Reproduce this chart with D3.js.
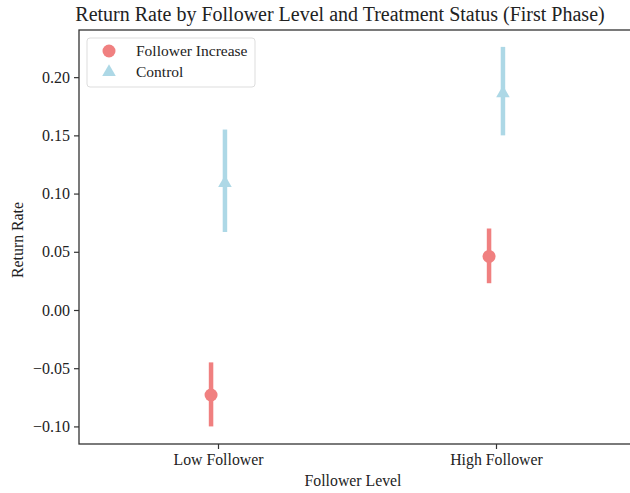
<!DOCTYPE html>
<html>
<head>
<meta charset="utf-8">
<script src="https://cdn.jsdelivr.net/npm/d3@7"></script>
<style>
  body { margin: 0; background: #fff; }
  text { font-family: "Liberation Serif", "Times New Roman", serif; fill: #222; }
</style>
</head>
<body>
<div id="chart"></div>
<script>
var levels = ["Low Follower", "High Follower"];
var groups = ["Follower Increase", "Control"];
// point estimate and CI per group, in the order of levels
var increaseMean = [-0.073, 0.046];
var increaseLow = [-0.100, 0.023];
var increaseHigh = [-0.045, 0.070];
var controlMean = [0.109, 0.186];
var controlLow = [0.067, 0.150];
var controlHigh = [0.155, 0.226];
var yTicks = [-0.10, -0.05, 0.00, 0.05, 0.10, 0.15, 0.20];

function init(){
    var w = 630, h = 493;
    var left = 79, right = 635, top = 30, bottom = 444;

    var svg = d3.select("#chart").append("svg")
        .attr("width", w).attr("height", h);

    var xScale = d3.scaleLinear().domain([-0.5, 1.5]).range([left, right]);
    var yScale = d3.scaleLinear().domain([-0.1151, 0.2405]).range([bottom, top]);
    var colors = {"Follower Increase": "#f08080", "Control": "#add8e6"};
    var dodge = 0.025;

    var series = [
        {name: "Follower Increase", mean: increaseMean, lo: increaseLow, hi: increaseHigh, off: -dodge},
        {name: "Control", mean: controlMean, lo: controlLow, hi: controlHigh, off: dodge}
    ];

    // frame
    svg.append("rect")
        .attr("x", left).attr("y", top)
        .attr("width", right - left).attr("height", bottom - top)
        .attr("fill", "none").attr("stroke", "#333").attr("stroke-width", 1.3);

    var yAxis = d3.axisLeft(yScale).tickValues(yTicks)
        .tickFormat(function(d){ return d3.format(".2f")(d).replace("-", "\u2212"); })
        .tickSize(5).tickPadding(4);
    var yg = svg.append("g").attr("transform", "translate(" + left + ",0)").call(yAxis);
    yg.select(".domain").remove();
    yg.selectAll("line").attr("stroke", "#333").attr("stroke-width", 1.2);
    yg.selectAll("text").style("font-size", "16px").style("font-family", "Liberation Serif").attr("fill", "#222");

    var xAxis = d3.axisBottom(xScale).tickValues([0, 1])
        .tickFormat(function(d){ return levels[d]; })
        .tickSize(5).tickPadding(5);
    var xg = svg.append("g").attr("transform", "translate(0," + bottom + ")").call(xAxis);
    xg.select(".domain").remove();
    xg.selectAll("line").attr("stroke", "#333").attr("stroke-width", 1.2);
    xg.selectAll("text").style("font-size", "15.8px").style("font-family", "Liberation Serif").attr("fill", "#222");

    series.forEach(function(s){
        var g = svg.append("g");
        var c = colors[s.name];
        levels.forEach(function(l, i){
            var cx = xScale(i + s.off);
            g.append("line")
                .attr("x1", cx).attr("x2", cx)
                .attr("y1", yScale(s.lo[i])).attr("y2", yScale(s.hi[i]))
                .attr("stroke", c).attr("stroke-width", 4.5);
            if (s.name === "Control") {
                g.append("path")
                    .attr("d", d3.symbol().type(d3.symbolTriangle).size(80)())
                    .attr("transform", "translate(" + cx + "," + yScale(s.mean[i]) + ")")
                    .attr("fill", c);
            } else {
                g.append("circle")
                    .attr("cx", cx).attr("cy", yScale(s.mean[i])).attr("r", 6.5)
                    .attr("fill", c);
            }
        });
    });

    // legend
    var lg = svg.append("g");
    lg.append("rect")
        .attr("x", 87).attr("y", 38).attr("width", 168).attr("height", 49).attr("rx", 3)
        .attr("fill", "#fff").attr("stroke", "#ddd");
    groups.forEach(function(gname, i){
        var yy = 51 + i * 21;
        if (gname === "Control") {
            lg.append("path")
                .attr("d", d3.symbol().type(d3.symbolTriangle).size(80)())
                .attr("transform", "translate(109," + yy + ")")
                .attr("fill", colors[gname]);
        } else {
            lg.append("circle").attr("cx", 109).attr("cy", yy).attr("r", 6.5).attr("fill", colors[gname]);
        }
        lg.append("text").attr("x", 136).attr("y", yy + 5)
            .style("font-size", "15.5px").text(gname);
    });

    svg.append("text")
        .attr("x", 340).attr("y", 21).attr("text-anchor", "middle")
        .style("font-size", "20px")
        .text("Return Rate by Follower Level and Treatment Status (First Phase)");

    svg.append("text")
        .attr("x", 353).attr("y", 486).attr("text-anchor", "middle")
        .style("font-size", "15.8px").text("Follower Level");

    svg.append("text")
        .attr("transform", "translate(23,240) rotate(-90)").attr("text-anchor", "middle")
        .style("font-size", "15.8px").text("Return Rate");
}
window.onload = init;
</script>
</body>
</html>
